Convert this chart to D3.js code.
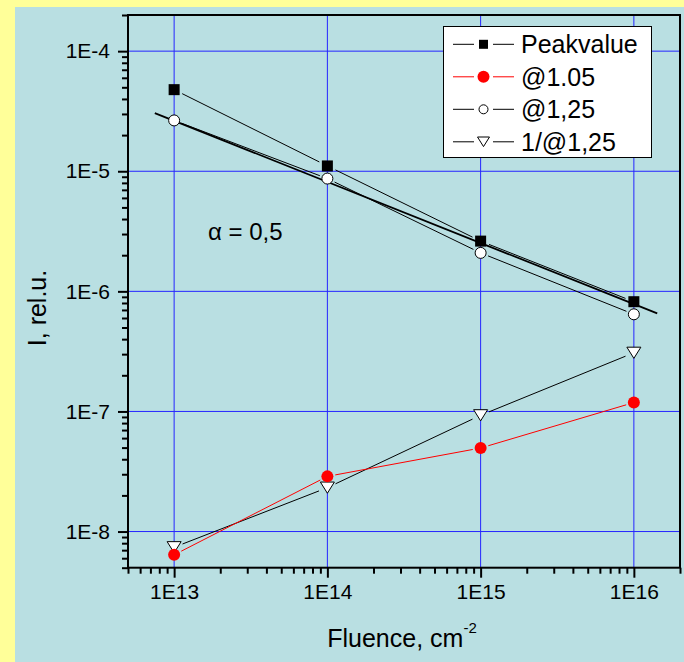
<!DOCTYPE html>
<html><head><meta charset="utf-8">
<script src="https://cdn.jsdelivr.net/npm/d3@7"></script>
<style>
html,body{margin:0;padding:0;background:#ffff99;}
svg{display:block;font-family:"Liberation Sans",Arial,sans-serif;}
</style></head>
<body>
<svg id="chart" width="684" height="662"></svg>
<script>
// ---- data ----
const fluence = [1e13, 1e14, 1e15, 1e16];
const peakvalue = [4.78e-5, 1.107e-5, 2.62e-6, 8.2e-7];
const at105 = [6.4e-9, 2.88e-8, 4.96e-8, 1.186e-7];
const at125 = [2.65e-5, 8.69e-6, 2.09e-6, 6.44e-7];
const inv125 = [7.4e-9, 2.32e-8, 9.29e-8, 3.08e-7];
const fitX = [7.48e12, 1.42e16];
const fitY = [3.05e-5, 6.56e-7];
const xTickLabels = ["1E13", "1E14", "1E15", "1E16"];
const yTickLabels = ["1E-8", "1E-7", "1E-6", "1E-5", "1E-4"];
const legendLabels = ["Peakvalue", "@1.05", "@1,25", "1/@1,25"];
const annotation = "\u03b1 = 0,5";

// ---- layout ----
const svg = d3.select("#chart");
const L = 128, R = 680, T = 15, B = 567.7;
svg.append("rect").attr("x", 15).attr("y", 7).attr("width", 684 - 15).attr("height", 662 - 7).attr("fill", "#b9dfe2");

const x = d3.scaleLog().domain([5e12, 2e16]).range([L, R]);
const y = d3.scaleLog().domain([5e-9, 2e-4]).range([B, T]);

const xMajor = xTickLabels.map(Number);
const yMajor = yTickLabels.map(Number);

// grid
const grid = svg.append("g");
xMajor.forEach(v => grid.append("line").attr("x1", x(v)).attr("x2", x(v)).attr("y1", T).attr("y2", B).attr("stroke", "#2525ff").attr("stroke-width", 1));
yMajor.forEach(v => grid.append("line").attr("x1", L).attr("x2", R).attr("y1", y(v)).attr("y2", y(v)).attr("stroke", "#2525ff").attr("stroke-width", 1));

// fit line
svg.append("line").attr("x1", x(fitX[0])).attr("y1", y(fitY[0])).attr("x2", x(fitX[1])).attr("y2", y(fitY[1]))
  .attr("stroke", "#000").attr("stroke-width", 1.8);

// series lines with gaps at markers
function gappedLine(vals, color, gap) {
  const pts = fluence.map((f, i) => [x(f), y(vals[i])]);
  const g = svg.append("g");
  for (let i = 0; i < pts.length - 1; i++) {
    const [x1, y1] = pts[i], [x2, y2] = pts[i + 1];
    const dx = x2 - x1, dy = y2 - y1, len = Math.hypot(dx, dy);
    const ux = dx / len, uy = dy / len;
    g.append("line").attr("x1", x1 + ux * gap).attr("y1", y1 + uy * gap)
      .attr("x2", x2 - ux * gap).attr("y2", y2 - uy * gap)
      .attr("stroke", color).attr("stroke-width", 1);
  }
}
gappedLine(peakvalue, "#000", 9);
gappedLine(at125, "#000", 8);
gappedLine(inv125, "#000", 9);
gappedLine(at105, "#ff0000", 8);

// markers
function drawMarker(g, type, cx, cy, s) {
  if (type === "square") {
    g.append("rect").attr("x", cx - s / 2).attr("y", cy - s / 2).attr("width", s).attr("height", s).attr("fill", "#000");
  } else if (type === "red") {
    g.append("circle").attr("cx", cx).attr("cy", cy).attr("r", s / 2).attr("fill", "#ff0000");
  } else if (type === "open") {
    g.append("circle").attr("cx", cx).attr("cy", cy).attr("r", s / 2 - 0.5).attr("fill", "#fff").attr("stroke", "#000").attr("stroke-width", 1);
  } else if (type === "tri") {
    const w = s, h = s * 0.8;
    g.append("path").attr("d", `M${cx - w / 2},${cy - h / 2}L${cx + w / 2},${cy - h / 2}L${cx},${cy + h / 2}Z`)
      .attr("fill", "#fff").attr("stroke", "#000").attr("stroke-width", 1);
  }
}
const mg = svg.append("g");
fluence.forEach((f, i) => drawMarker(mg, "square", x(f), y(peakvalue[i]), 11));
fluence.forEach((f, i) => drawMarker(mg, "open", x(f), y(at125[i]), 12));
fluence.forEach((f, i) => drawMarker(mg, "tri", x(f), y(inv125[i]), 14));
fluence.forEach((f, i) => drawMarker(mg, "red", x(f), y(at105[i]), 12));

// axes
const xMinor = x.ticks().filter(v => !xMajor.some(m => Math.abs(m - v) / m < 1e-9));
const yMinor = y.ticks().filter(v => !yMajor.some(m => Math.abs(m - v) / m < 1e-9));

const xAxis = svg.append("g").attr("transform", `translate(0,${B})`);
xAxis.call(d3.axisBottom(x).tickValues(xMajor).tickSize(10).tickPadding(6).tickFormat((d, i) => xTickLabels[i]));
xAxis.append("g").call(d3.axisBottom(x).tickValues(xMinor).tickSize(6).tickFormat(""));
const yAxis = svg.append("g").attr("transform", `translate(${L},0)`);
yAxis.call(d3.axisLeft(y).tickValues(yMajor).tickSize(10).tickPadding(8).tickFormat((d, i) => yTickLabels[i]));
yAxis.append("g").call(d3.axisLeft(y).tickValues(yMinor).tickSize(6).tickFormat(""));
svg.selectAll(".domain").remove();
svg.selectAll(".tick line").attr("stroke", "#000").attr("stroke-width", 2);
xAxis.selectAll(".tick text").attr("font-size", 21).attr("font-family", "Liberation Sans, Arial, sans-serif").attr("fill", "#000");
yAxis.selectAll(".tick text").attr("font-size", 21).attr("font-family", "Liberation Sans, Arial, sans-serif").attr("fill", "#000");

// frame
svg.append("rect").attr("x", L).attr("y", T).attr("width", R - L).attr("height", B - T)
  .attr("fill", "none").attr("stroke", "#000").attr("stroke-width", 2);

// axis titles
const xt = svg.append("text").attr("x", (L + R) / 2 - 2).attr("y", 647).attr("text-anchor", "middle").attr("font-size", 25).attr("fill", "#000");
xt.append("tspan").text("Fluence, cm");
xt.append("tspan").attr("dy", -14).attr("font-size", 15).text("-2");
svg.append("text").attr("transform", "translate(46,308) rotate(-90)").attr("text-anchor", "middle")
  .attr("font-size", 25).attr("fill", "#000").text("I, rel.u.");

// annotation
svg.append("text").attr("x", 208).attr("y", 240).attr("font-size", 24).attr("fill", "#000").text(annotation);

// legend
const lg = svg.append("g");
lg.append("rect").attr("x", 443.5).attr("y", 26.5).attr("width", 208).attr("height", 131).attr("fill", "#fff").attr("stroke", "#000").attr("stroke-width", 1);
const legTypes = ["square", "red", "open", "tri"];
const legColors = ["#000", "#ff0000", "#000", "#000"];
const legSizes = [9, 12, 10, 12];
legendLabels.forEach((lab, i) => {
  const cy = 44.3 + i * 32.5;
  lg.append("line").attr("x1", 453).attr("x2", 474).attr("y1", cy).attr("y2", cy).attr("stroke", legColors[i]).attr("stroke-width", 1);
  lg.append("line").attr("x1", 493).attr("x2", 514).attr("y1", cy).attr("y2", cy).attr("stroke", legColors[i]).attr("stroke-width", 1);
  drawMarker(lg, legTypes[i], 483.5, cy, legSizes[i]);
  lg.append("text").attr("x", 521).attr("y", cy + 9).attr("font-size", 25).attr("fill", "#000").text(lab);
});
</script>
</body></html>
